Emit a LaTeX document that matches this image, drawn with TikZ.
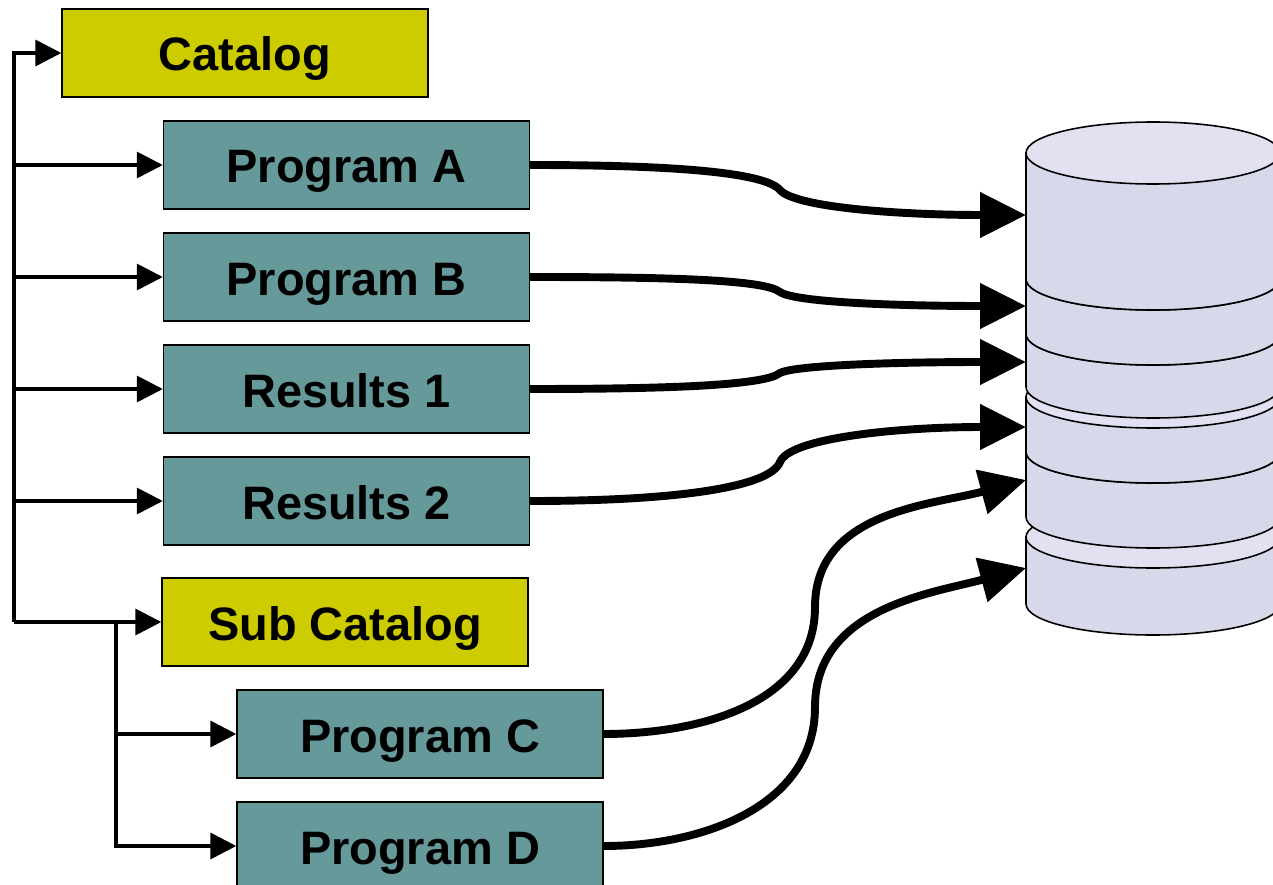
\documentclass[tikz,border=0pt]{standalone}
\usepackage{fontspec}
\setmainfont{Liberation Sans}
\usetikzlibrary{arrows.meta,positioning,calc}
\definecolor{catyellow}{RGB}{204,204,0}
\definecolor{progteal}{RGB}{102,153,153}
\definecolor{canside}{RGB}{216,216,235}
\definecolor{cantop}{RGB}{225,225,241}

\begin{document}
\begin{tikzpicture}[
    box/.style={rectangle, draw=black, line width=0.8pt, minimum width=7.32cm, minimum height=1.76cm, text height=0.72cm, text depth=0cm, font=\fontsize{26.7}{32}\selectfont\bfseries},
    catbox/.style={box, fill=catyellow},
    progbox/.style={box, fill=progteal},
    tree/.style={-{Triangle[length=0.52cm,width=0.52cm]}, line width=2pt},
    link/.style={-{Triangle[length=0.92cm,width=0.88cm]}, line width=4.5pt},
    can/.style={draw=black, line width=0.9pt}
]
\useasboundingbox (0,0) rectangle (25.46,-17.7);

% Storage cylinder (stacked cans, bottom first)
\foreach \top/\bot in {-10.74/-12.08, -9.04/-10.34, -7.94/-9.04, -6.68/-7.74, -5.58/-6.68, -3.06/-5.58} {
    \filldraw[can, fill=canside] (20.52,\top) -- (20.52,\bot)
        arc[start angle=180, end angle=360, x radius=2.54, y radius=0.62]
        -- (25.6,\top) -- cycle;
    \filldraw[can, fill=cantop] (23.06,\top) ellipse[x radius=2.54, y radius=0.62];
}

% Inputs on the cylinder
\coordinate (inA) at (20.52,-4.3);
\coordinate (inB) at (20.52,-6.12);
\coordinate (inR1) at (20.52,-7.24);
\coordinate (inR2) at (20.52,-8.54);
\coordinate (inC) at (20.52,-9.6);
\coordinate (inD) at (20.52,-11.36);

% Catalog tree
\node[catbox] (catalog) at (4.9,-1.06) {Catalog};
\node[progbox] (progA) at (6.93,-3.3) {Program A};
\node[progbox] (progB) at (6.93,-5.54) {Program B};
\node[progbox] (res1) at (6.93,-7.78) {Results 1};
\node[progbox] (res2) at (6.93,-10.02) {Results 2};
\node[catbox] (subcat) at (6.9,-12.44) {Sub Catalog};
\node[progbox] (progC) at (8.4,-14.68) {Program C};
\node[progbox] (progD) at (8.4,-16.92) {Program D};

% Branches
\coordinate (root) at (0.28,-12.44);
\coordinate (subroot) at (2.32,-12.44);
\draw[tree] (root) |- (catalog);
\draw[tree] (root |- progA) -- (progA);
\draw[tree] (root |- progB) -- (progB);
\draw[tree] (root |- res1) -- (res1);
\draw[tree] (root |- res2) -- (res2);
\draw[tree] (root) -- (subcat);
\draw[tree] (subroot) |- (progC);
\draw[tree] (subroot) |- (progD);

% Links to storage
\draw[link] (progA.east) .. controls (13.5,-3.3) and (15.3,-3.45) .. (15.6,-3.8)
    .. controls (15.9,-4.15) and (18,-4.3) .. (inA);
\draw[link] (progB.east) .. controls (13.5,-5.54) and (15.3,-5.6) .. (15.6,-5.84)
    .. controls (15.9,-6.05) and (18,-6.12) .. (inB);
\draw[link] (res1.east) .. controls (13.5,-7.78) and (15.3,-7.7) .. (15.6,-7.46)
    .. controls (15.9,-7.3) and (18,-7.24) .. (inR1);
\draw[link] (res2.east) .. controls (13.5,-10.02) and (15.4,-9.75) .. (15.6,-9.24)
    .. controls (15.8,-8.75) and (18,-8.54) .. (inR2);
\draw[link] (progC.east) to[out=0, in=-90] (16.3,-12.14) to[out=90, in=195] (inC);
\draw[link] (progD.east) to[out=0, in=-90] (16.3,-14.14) to[out=90, in=195] (inD);

\end{tikzpicture}
\end{document}
